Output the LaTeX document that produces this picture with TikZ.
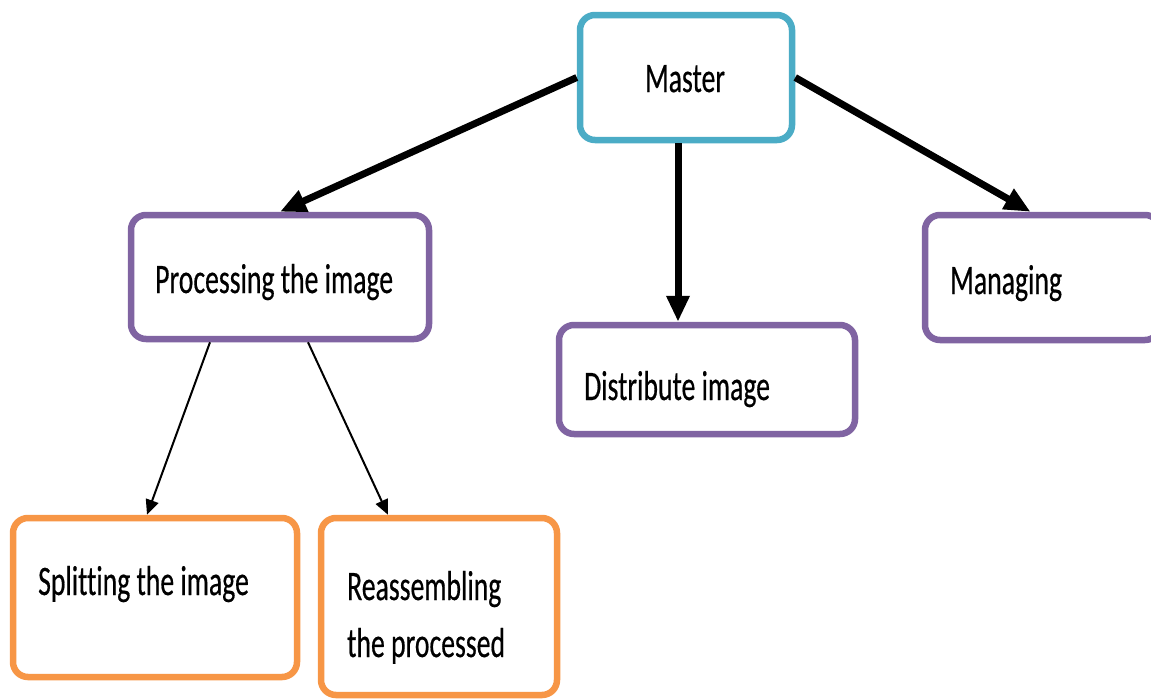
\documentclass[tikz,border=0pt]{standalone}
\usepackage{fontspec}
\setmainfont{Carlito}[FakeStretch=0.66, Ligatures=NoCommon, FakeBold=0.4]
\usetikzlibrary{arrows.meta}
\definecolor{masterblue}{HTML}{4BACC6}
\definecolor{taskpurple}{HTML}{8064A2}
\definecolor{suborange}{HTML}{F79646}
\tikzset{
  box/.style={draw, fill=white, line width=6.5pt, rounded corners=15pt,
    inner sep=0pt, anchor=center},
  lbl/.style={inner sep=0pt, font=\fontsize{42}{60}\selectfont, text=black},
  bigarrow/.style={line width=7pt, -{Triangle[length=26pt,width=22pt]}},
  smallarrow/.style={line width=2pt, -{Triangle[length=15pt,width=13pt]}}
}
\begin{document}
\begin{tikzpicture}[x=1pt,y=-1pt]
\useasboundingbox (0,0) rectangle (1151,699);
% boxes
\node[box, draw=masterblue, minimum width=212pt, minimum height=125pt] (master) at (686,77.5) {};
\node[box, draw=taskpurple, minimum width=298pt, minimum height=124pt] (proc) at (280,277) {};
\node[box, draw=taskpurple, minimum width=296pt, minimum height=109pt] (dist) at (707,379.5) {};
\node[box, draw=taskpurple, minimum width=235pt, minimum height=125pt] (mng) at (1042.5,277.5) {};
\node[box, draw=suborange, minimum width=284pt, minimum height=159pt] (split) at (155,597.5) {};
\node[box, draw=suborange, minimum width=236pt, minimum height=177pt] (reass) at (439,606.5) {};
% labels
\node[lbl, anchor=base] (tmaster) at (685,92) {Master};
\node[lbl, anchor=base west] (tproc) at (155,293) {Processing the image};
\node[lbl, anchor=base west] (tdist) at (584,400) {Distribute image};
\node[lbl, anchor=base west] (tmng) at (950,294) {Managing};
\node[lbl, anchor=base west] (tsplit) at (38,595) {Splitting the image};
\node[lbl, anchor=base west] (treass1) at (347,600) {Reassembling};
\node[lbl, anchor=base west] (treass2) at (347,657) {the processed};
% connectors
\draw[bigarrow] (master.west) -- (proc.north);
\draw[bigarrow] ([xshift=-8pt]master.south) -- ([xshift=-8pt]master.south |- dist.north);
\draw[bigarrow] (master.east) -- ([xshift=-12pt]mng.north);
\draw[smallarrow] ([xshift=-70pt]proc.south) -- ([xshift=-8pt]split.north);
\draw[smallarrow] ([xshift=28pt]proc.south) -- ([xshift=-51pt]reass.north);
\end{tikzpicture}
\end{document}
